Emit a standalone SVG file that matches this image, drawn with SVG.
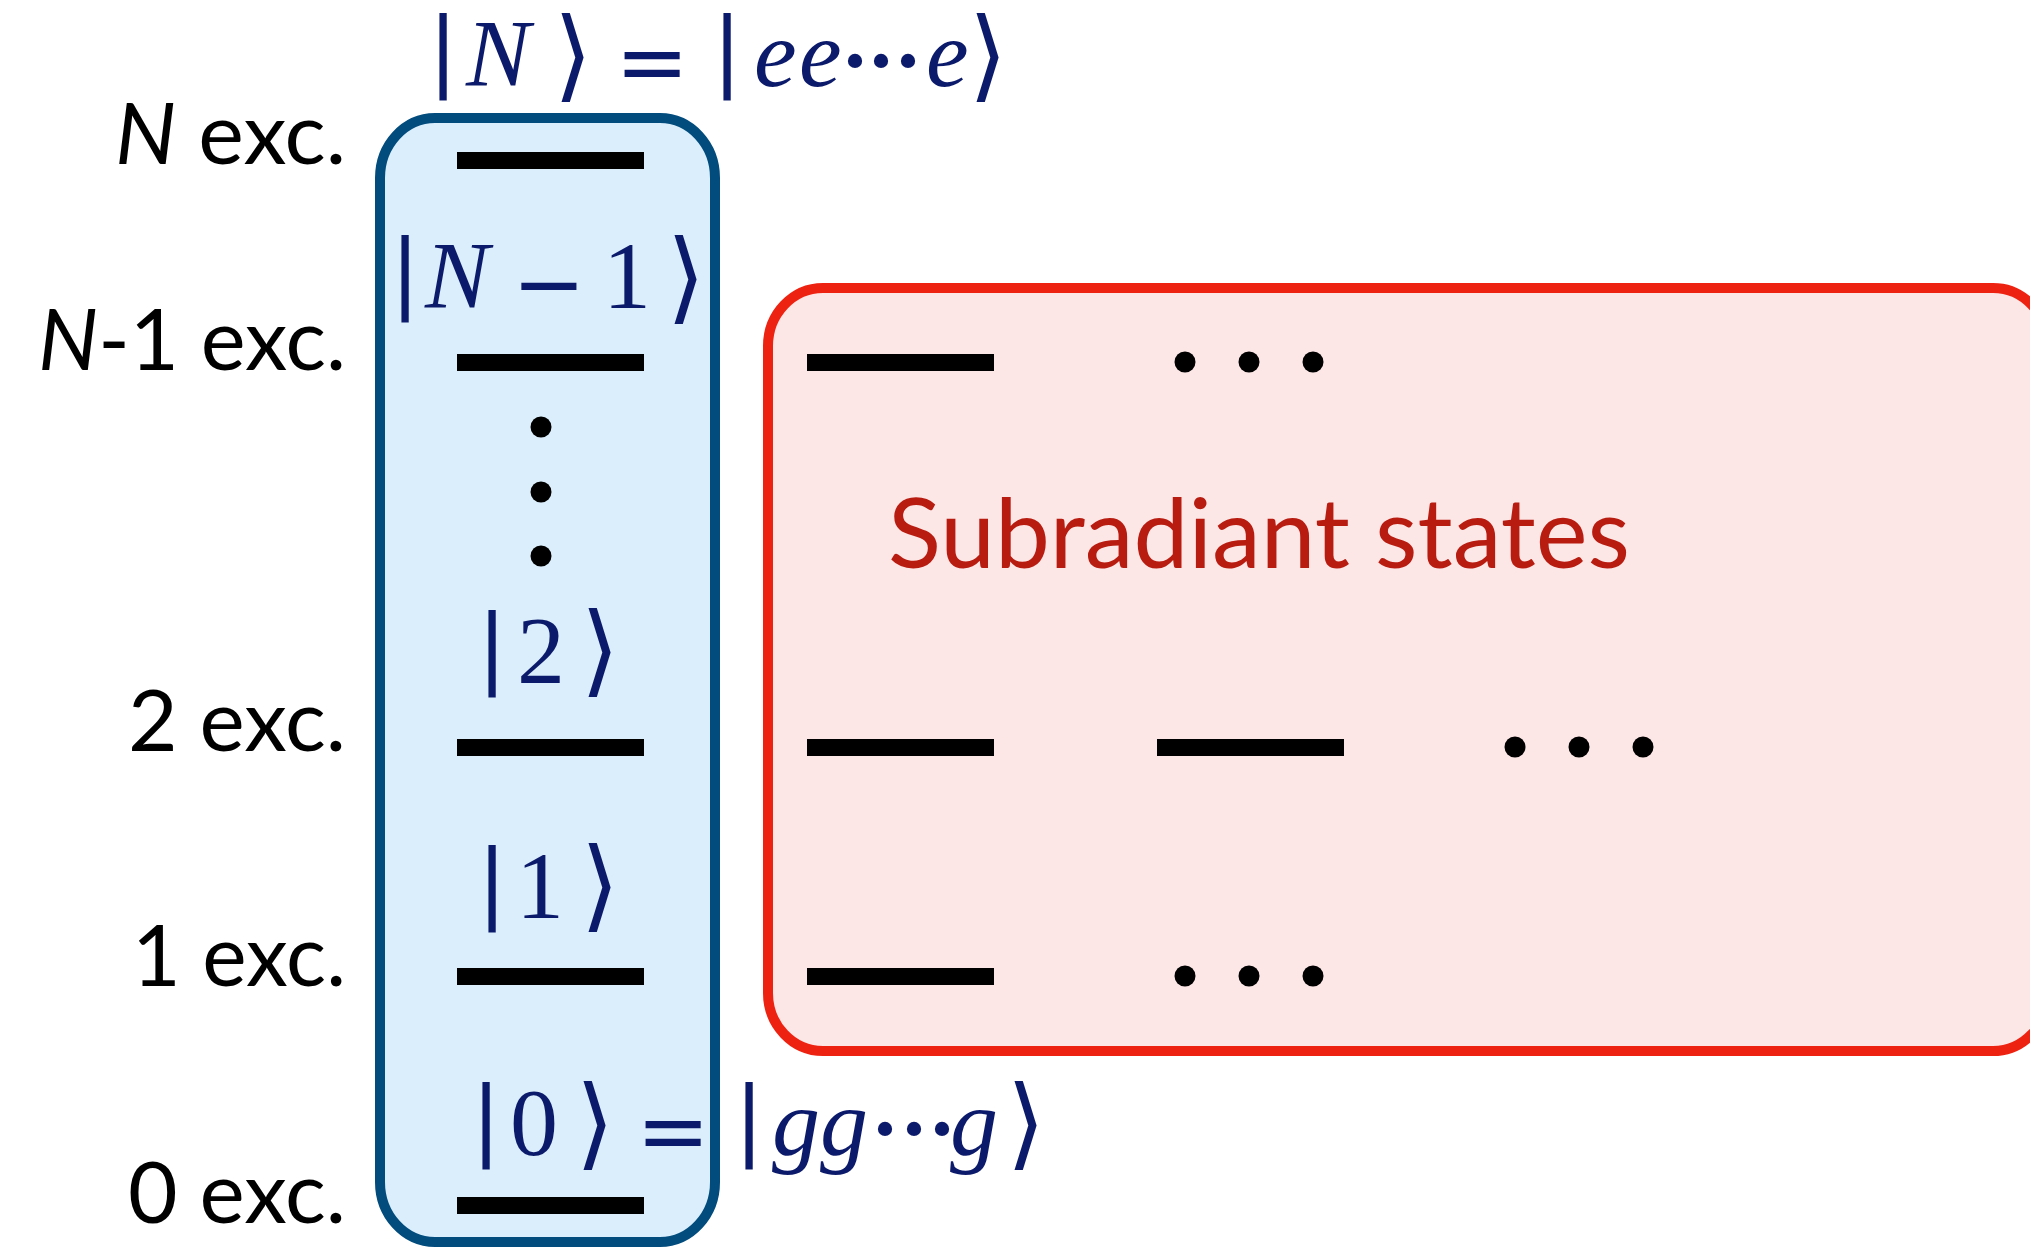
<svg xmlns="http://www.w3.org/2000/svg" width="2030" height="1248" viewBox="0 0 2030 1248">
<style>
.lbl{font-family:Lato,"Liberation Sans",sans-serif;font-size:85px;fill:#000}
.ket{font-family:"Liberation Serif","Times New Roman",serif;font-size:96px;fill:#0c1a6b}
.it{font-style:italic}
.op{font-family:"DejaVu Sans",sans-serif;font-size:88px;fill:#0c1a6b}
.br{font-family:"DejaVu Sans",sans-serif;font-size:100px;fill:#0c1a6b}
.el{font-family:"Liberation Serif","Times New Roman",serif;font-size:60px;fill:#0c1a6b}
.bar{fill:#000}
.dot{fill:#000}
</style>
<rect width="2030" height="1248" fill="#fff"/>
<g id="subradiant-box">
<rect x="768" y="288" width="1280" height="763" rx="55" ry="58" fill="#fde6e6" stroke="#ee2211" stroke-width="10"/>
<text x="888" y="568" font-family="Lato,'Liberation Sans',sans-serif" font-size="96" fill="#b81c10" textLength="742" lengthAdjust="spacingAndGlyphs">Subradiant states</text>
</g>
<g id="symmetric-box">
<rect x="380" y="118" width="335" height="1124" rx="55" ry="60" fill="#daeefb" stroke="#014b7d" stroke-width="10"/>
</g>
<g id="levels">
<rect class="bar" x="457" y="152" width="187" height="17"/>
<rect class="bar" x="457" y="354" width="187" height="17"/>
<rect class="bar" x="457" y="739" width="187" height="17"/>
<rect class="bar" x="457" y="968" width="187" height="17"/>
<rect class="bar" x="457" y="1197" width="187" height="17"/>
<circle class="dot" cx="541" cy="427" r="10.5"/>
<circle class="dot" cx="541" cy="492" r="10.5"/>
<circle class="dot" cx="541" cy="556" r="10.5"/>
<rect class="bar" x="807" y="354" width="187" height="17"/>
<circle class="dot" cx="1185" cy="362" r="10.5"/>
<circle class="dot" cx="1249" cy="362" r="10.5"/>
<circle class="dot" cx="1313" cy="362" r="10.5"/>
<rect class="bar" x="807" y="739" width="187" height="17"/>
<rect class="bar" x="1157" y="739" width="187" height="17"/>
<circle class="dot" cx="1515" cy="747" r="10.5"/>
<circle class="dot" cx="1579" cy="747" r="10.5"/>
<circle class="dot" cx="1643" cy="747" r="10.5"/>
<rect class="bar" x="807" y="968" width="187" height="17"/>
<circle class="dot" cx="1185" cy="976" r="10.5"/>
<circle class="dot" cx="1249" cy="976" r="10.5"/>
<circle class="dot" cx="1313" cy="976" r="10.5"/>
</g>
<g id="level-labels">
<text class="lbl" x="346" y="164" text-anchor="end" textLength="231" lengthAdjust="spacingAndGlyphs"><tspan class="it">N</tspan> exc.</text>
<text class="lbl" x="346" y="370" text-anchor="end" textLength="308" lengthAdjust="spacingAndGlyphs"><tspan class="it">N</tspan>-1 exc.</text>
<text class="lbl" x="346" y="751" text-anchor="end" textLength="218" lengthAdjust="spacingAndGlyphs">2 exc.</text>
<text class="lbl" x="346" y="986" text-anchor="end" textLength="214" lengthAdjust="spacingAndGlyphs">1 exc.</text>
<text class="lbl" x="346" y="1223" text-anchor="end" textLength="218" lengthAdjust="spacingAndGlyphs">0 exc.</text>
</g>
<g id="ket-N">
<text class="op" x="443" y="79" text-anchor="middle">|</text>
<text class="ket it" x="466" y="86">N</text>
<text class="br" x="573" y="89" text-anchor="middle">⟩</text>
<text class="op" x="652" y="92" text-anchor="middle">=</text>
<text class="op" x="727" y="79" text-anchor="middle">|</text>
<text class="ket it" x="754" y="86">e</text>
<text class="ket it" x="799" y="86">e</text>
<text class="el" x="855 881 908" y="81" text-anchor="middle">•••</text>
<text class="ket it" x="926" y="86">e</text>
<text class="br" x="988" y="89" text-anchor="middle">⟩</text>
</g>
<g id="ket-N-1">
<text class="op" x="405" y="301" text-anchor="middle">|</text>
<text class="ket it" x="425" y="308">N</text>
<text class="op" x="549" y="314" text-anchor="middle">−</text>
<text class="ket" x="603" y="308">1</text>
<text class="br" x="686" y="311" text-anchor="middle">⟩</text>
</g>
<g id="ket-2">
<text class="op" x="492" y="676" text-anchor="middle">|</text>
<text class="ket" x="517" y="683">2</text>
<text class="br" x="600" y="684" text-anchor="middle">⟩</text>
</g>
<g id="ket-1">
<text class="op" x="492" y="911" text-anchor="middle">|</text>
<text class="ket" x="516" y="918">1</text>
<text class="br" x="600" y="919" text-anchor="middle">⟩</text>
</g>
<g id="ket-0">
<text class="op" x="486" y="1148" text-anchor="middle">|</text>
<text class="ket" x="510" y="1155">0</text>
<text class="br" x="595" y="1157" text-anchor="middle">⟩</text>
<text class="op" x="673" y="1161" text-anchor="middle">=</text>
<text class="op" x="749" y="1148" text-anchor="middle">|</text>
<text class="ket it" x="772" y="1155">g</text>
<text class="ket it" x="820" y="1155">g</text>
<text class="el" x="885 914 942" y="1149" text-anchor="middle">•••</text>
<text class="ket it" x="950" y="1155">g</text>
<text class="br" x="1026" y="1157" text-anchor="middle">⟩</text>
</g>
</svg>
